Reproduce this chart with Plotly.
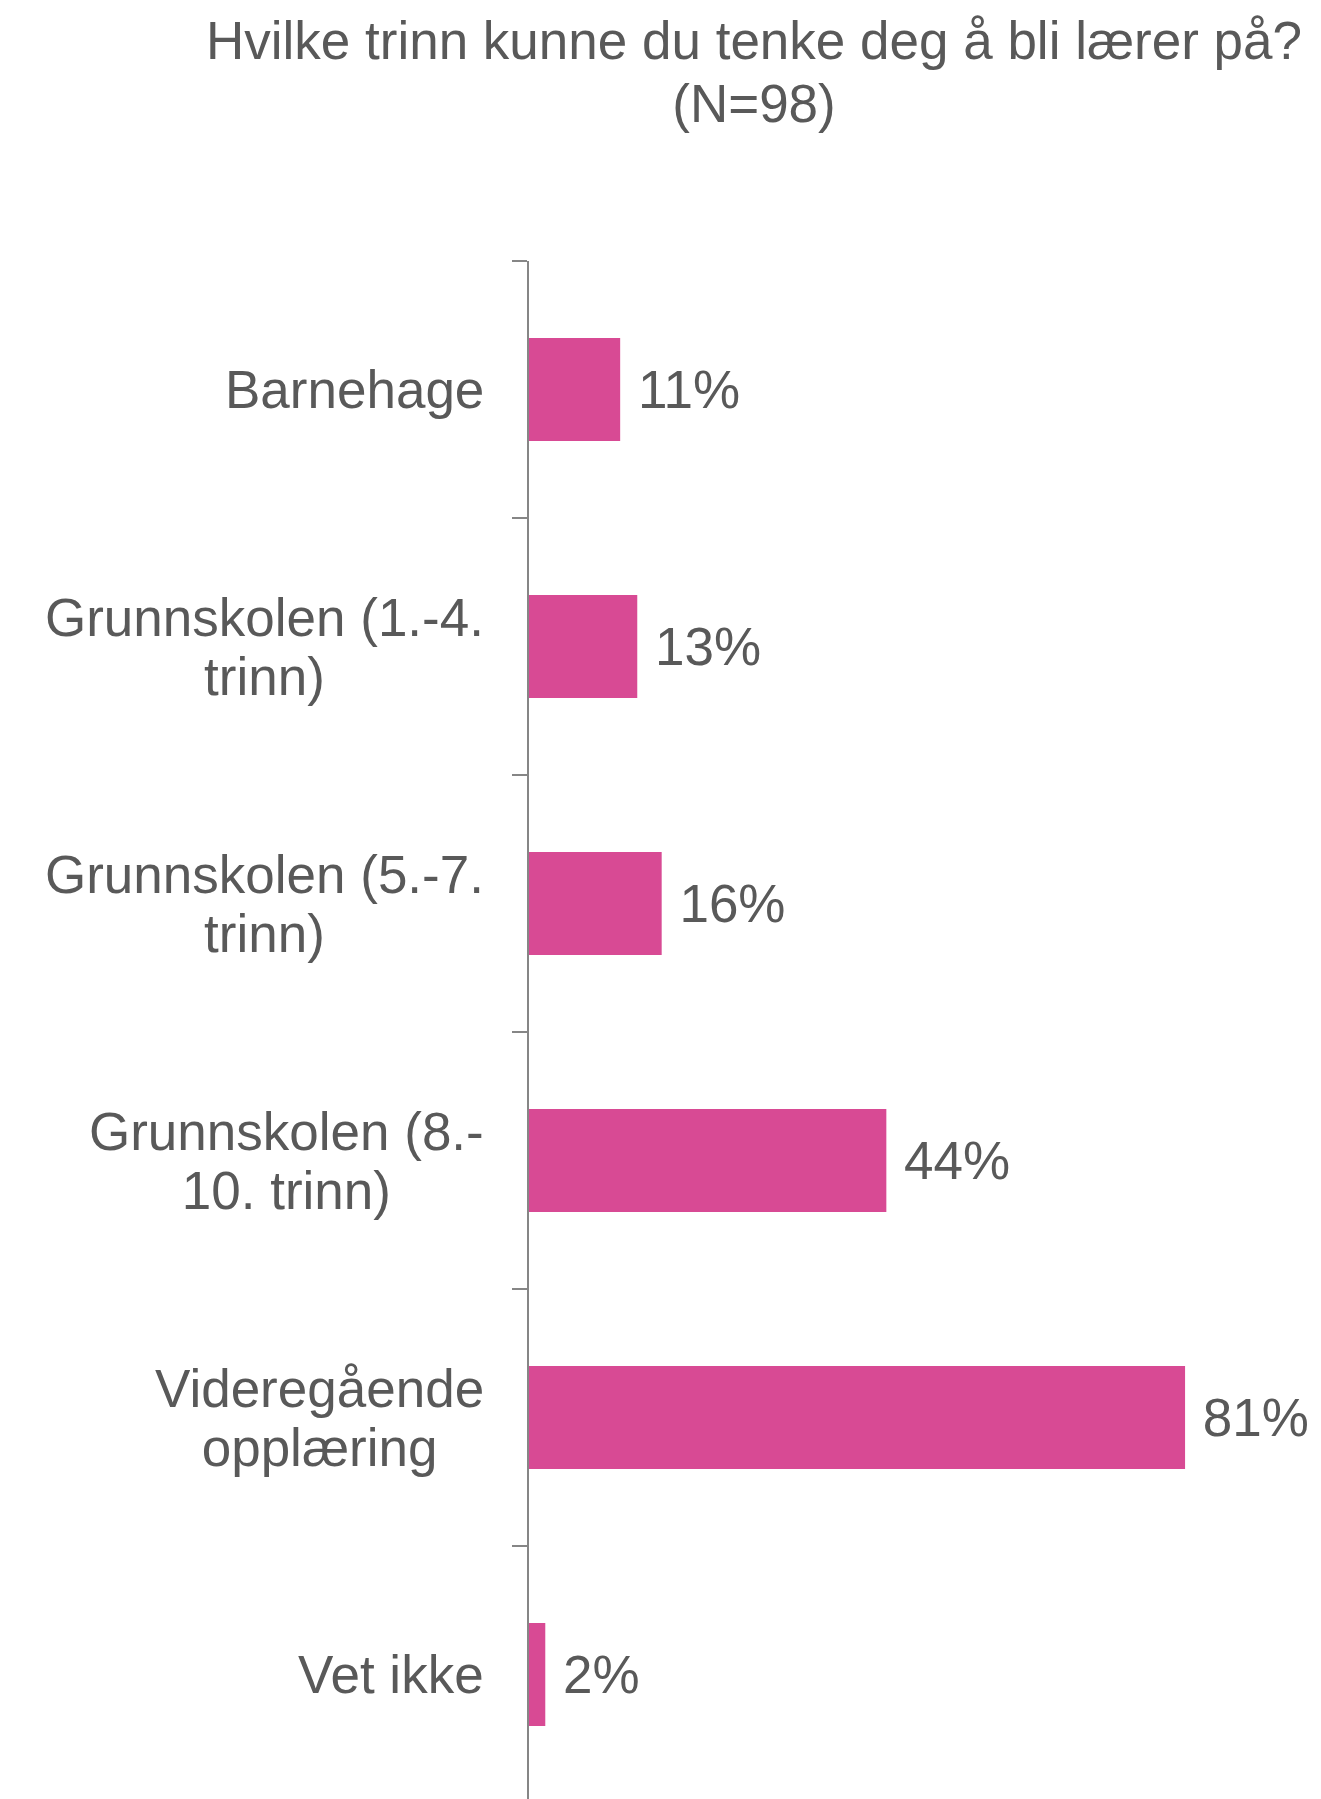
import plotly.graph_objects as go

# share of respondents (N=98), percent
categories = [
    "Barnehage",
    "Grunnskolen (1.-4.<br>trinn)",
    "Grunnskolen (5.-7.<br>trinn)",
    "Grunnskolen (8.-<br>10. trinn)",
    "Videregående<br>opplæring",
    "Vet ikke",
]
keys = ["c0", "c1", "c2", "c3", "c4", "c5"]
values = [11.2, 13.3, 16.3, 43.9, 80.6, 2.0]

title_lines = ["Hvilke trinn kunne du tenke deg å bli lærer på?", "(N=98)"]

FONT = "Liberation Sans, Arial, sans-serif"
GREY = "#595959"
PINK = "#D84A94"

# page body has an 8px default margin, so the figure is shrunk by that much
W, H = 1313, 1791
ML, MT = 521, 253
PLOT_W, PLOT_H = W - ML, H - MT


def big(s, size=53):
    # wrap each line so the visible size is bigger than the line-height base
    return "<br>".join(f'<span style="font-size:{size}px">{p}</span>' for p in s.split("<br>"))


fig = go.Figure(go.Bar(
    x=values,
    y=keys,
    orientation="h",
    marker=dict(color=PINK, line=dict(width=0)),
    texttemplate="\u00a0%{x:.0f}%",
    textposition="outside",
    cliponaxis=False,
    constraintext="none",
    textfont=dict(family=FONT, size=53, color=GREY),
    hoverinfo="skip",
))

annotations = []
for k, lab in zip(keys, categories):
    annotations.append(dict(
        x=0, xref="paper", xshift=-43, xanchor="right",
        y=k, yref="y", yanchor="middle",
        text=big(lab), align="center", showarrow=False,
        font=dict(family=FONT, size=45, color=GREY),
    ))

# title
annotations.append(dict(
    x=(746 - ML) / PLOT_W, xref="paper", xanchor="center",
    y=1 + (MT - 0.5) / PLOT_H, yref="paper", yanchor="top",
    text=big("<br>".join(title_lines)), align="center", showarrow=False,
    font=dict(family=FONT, size=48.5, color=GREY),
))

fig.update_layout(
    width=W,
    height=H,
    margin=dict(l=ML, r=0, t=MT, b=0),
    plot_bgcolor="white",
    paper_bgcolor="white",
    bargap=0.6,
    showlegend=False,
    xaxis=dict(range=[0, 97.3], visible=False, fixedrange=True),
    yaxis=dict(
        categoryorder="array",
        categoryarray=keys,
        range=[5.5 - 4 / 257, -0.5],
        showline=True, linecolor="#868686", linewidth=1.5,
        ticks="outside", tickson="boundaries", ticklen=15,
        tickcolor="#868686", tickwidth=1.5,
        showticklabels=False, showgrid=False, zeroline=False,
    ),
    annotations=annotations,
)

fig.write_html("out.html")
